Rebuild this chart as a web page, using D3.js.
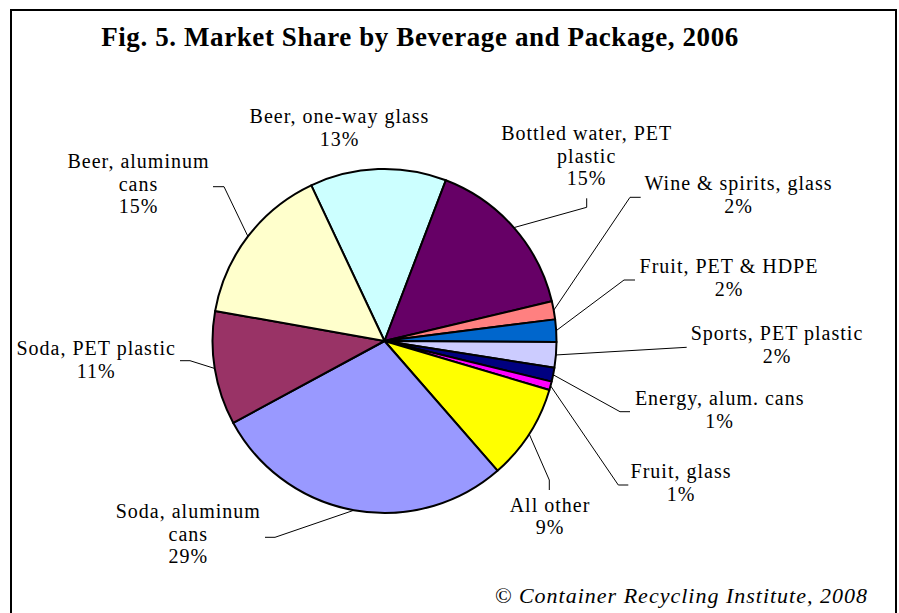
<!DOCTYPE html>
<html>
<head>
<meta charset="utf-8">
<script src="https://cdn.jsdelivr.net/npm/d3@7"></script>
<style>
  html, body { margin: 0; padding: 0; background: #fff; }
  svg { display: block; }
  text { font-family: "Liberation Serif", "Times New Roman", serif; fill: #000; }
</style>
</head>
<body>
<svg id="chart" width="899" height="613"></svg>
<script>
// Beverage / package categories, clockwise from the top of the pie
const categories = [
  ["Beer, one-way glass"],
  ["Bottled water, PET", "plastic"],
  ["Wine & spirits, glass"],
  ["Fruit, PET & HDPE"],
  ["Sports, PET plastic"],
  ["Energy, alum. cans"],
  ["Fruit, glass"],
  ["All other"],
  ["Soda, aluminum", "cans"],
  ["Soda, PET plastic"],
  ["Beer, aluminum", "cans"]
];

// Market share, percent of containers (2006)
const shares = [12.8, 15.49, 1.7, 2.1, 2.4, 1.3, 0.8, 9.0, 28.5, 10.7, 15.2];

const sliceColors = [
  "#CCFFFF", "#660066", "#FF8080", "#0066CC", "#CCCCFF",
  "#000080", "#FF00FF", "#FFFF00", "#9999FF", "#993366", "#FFFFCC"
];

const titleText = "Fig. 5. Market Share by Beverage and Package, 2006";
const creditText = "\u00A9 Container Recycling Institute, 2008";

// Label placement: text anchor (centre x, first baseline y) and the
// label-side points of each leader line (the pie end is computed).
const labelLayout = [
  { x: 339.5, y: 123,   lead: [] },
  { x: 586.7, y: 140,   lead: [[586.7, 198.3], [586.7, 207.3]] },
  { x: 738.5, y: 190,   lead: [[640.7, 197.3], [630, 197.3]] },
  { x: 729,   y: 273.3, lead: [[635, 280], [624, 280]] },
  { x: 777,   y: 340,   lead: [[686.7, 347.3]] },
  { x: 719.7, y: 405,   lead: [[630, 411.7], [620, 411.7]] },
  { x: 681,   y: 478.3, lead: [[628.3, 485], [618.3, 485]] },
  { x: 550,   y: 511.7, lead: [[549.3, 490], [549.3, 480]] },
  { x: 188.3, y: 518.3, lead: [[265, 537.3], [275, 537.3]] },
  { x: 96.2,  y: 355,   lead: [[180, 360.7], [190, 360.7]] },
  { x: 138.5, y: 168.3, lead: [[213, 186.7], [224, 186.7]] }
];

const cx = 384.5, cy = 341, R = 172;
const lineH = 22.5;

const svg = d3.select("#chart");

// outer frame (runs off the bottom edge)
svg.append("rect")
  .attr("x", 11).attr("y", 10)
  .attr("width", 885).attr("height", 640)
  .attr("fill", "#fff")
  .attr("stroke", "#000")
  .attr("stroke-width", 2);

svg.append("text")
  .attr("x", 420).attr("y", 46)
  .attr("text-anchor", "middle")
  .attr("font-size", 27)
  .attr("font-weight", "bold")
  .attr("letter-spacing", 0.6)
  .text(titleText);

const data = categories.map((c, i) => ({
  lines: c, value: shares[i], color: sliceColors[i], layout: labelLayout[i]
}));
const total = d3.sum(shares);

const pie = d3.pie()
  .sort(null)
  .value(d => d.value)
  .startAngle(-25.2 * Math.PI / 180)
  .endAngle((360 - 25.2) * Math.PI / 180);

const arcs = pie(data);
const arc = d3.arc().innerRadius(0).outerRadius(R);

const g = svg.append("g").attr("transform", `translate(${cx},${cy})`);

g.selectAll("path.slice")
  .data(arcs)
  .join("path")
  .attr("class", "slice")
  .attr("d", arc)
  .attr("fill", d => d.data.color)
  .attr("stroke", "#000")
  .attr("stroke-width", 2)
  .attr("stroke-linejoin", "round");

// leader lines from each label to the rim at the slice's mid-angle
const line = d3.line();
svg.append("g").selectAll("path.leader")
  .data(arcs.filter(d => d.data.layout.lead.length))
  .join("path")
  .attr("class", "leader")
  .attr("fill", "none")
  .attr("stroke", "#000")
  .attr("stroke-width", 1)
  .attr("d", d => {
    const a = (d.startAngle + d.endAngle) / 2;
    const rim = [cx + R * Math.sin(a), cy - R * Math.cos(a)];
    return line([...d.data.layout.lead, rim]);
  });

// category labels with percentage
const fmt = v => Math.round(v / total * 100) + "%";
const labels = svg.append("g").selectAll("text.label")
  .data(arcs)
  .join("text")
  .attr("class", "label")
  .attr("text-anchor", "middle")
  .attr("font-size", 20)
  .attr("letter-spacing", 1)
  .attr("x", d => d.data.layout.x)
  .attr("y", d => d.data.layout.y);

labels.each(function(d) {
  const t = d3.select(this);
  const rows = [...d.data.lines, fmt(d.value)];
  rows.forEach((r, i) => {
    t.append("tspan")
      .attr("x", d.data.layout.x)
      .attr("y", d.data.layout.y + i * lineH)
      .text(r);
  });
});

svg.append("text")
  .attr("x", 868).attr("y", 603)
  .attr("text-anchor", "end")
  .attr("font-size", 22)
  .attr("font-style", "italic")
  .attr("letter-spacing", 1)
  .text(creditText);
</script>
</body>
</html>
